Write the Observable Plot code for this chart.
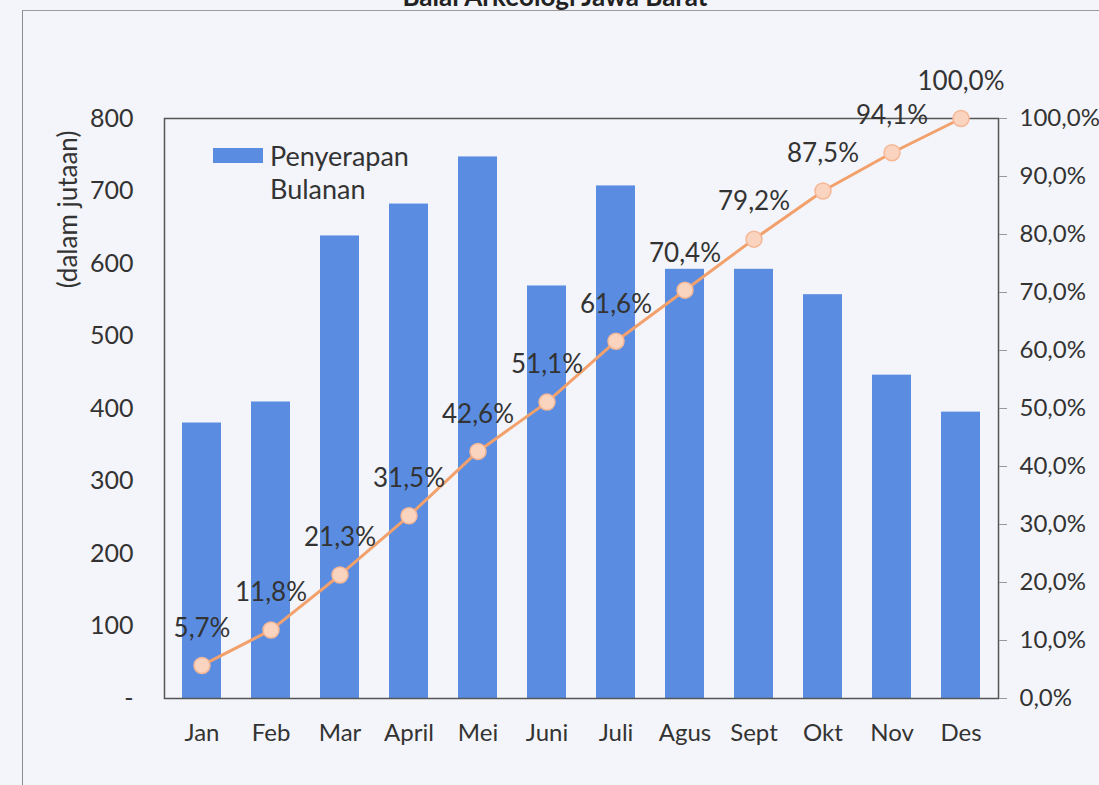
<!DOCTYPE html>
<html>
<head>
<meta charset="utf-8">
<script src="https://cdn.jsdelivr.net/npm/d3@7"></script>
<script src="https://cdn.jsdelivr.net/npm/@observablehq/plot@0.6"></script>
<style>
  html, body { margin: 0; padding: 0; background: #f3f5fa; }
  #wrap { position: relative; width: 1099px; height: 785px; overflow: hidden; background: #f3f5fa; font-family: Lato, "Open Sans", sans-serif; }
  #title { position: absolute; top: -20px; left: 0; width: 1110px; text-align: center; font-weight: bold; font-size: 26px; color: #222; }
  #border { position: absolute; left: 22px; top: 10px; width: 1100px; height: 800px; border-left: 1.5px solid #8c8c8c; border-top: 1.5px solid #9a9a9a; }
  #chart { position: absolute; left: 0; top: 0; }
</style>
</head>
<body>
<div id="wrap">
  <div id="title">Balai Arkeologi Jawa Barat</div>
  <div id="border"></div>
  <div id="chart"></div>
</div>
<script>
const months = ["Jan","Feb","Mar","April","Mei","Juni","Juli","Agus","Sept","Okt","Nov","Des"];
const monthly = [380, 409, 638, 682, 747, 569, 707, 592, 592, 557, 446, 395];
const cumulativePct = [5.7, 11.8, 21.3, 31.5, 42.6, 51.1, 61.6, 70.4, 79.2, 87.5, 94.1, 100.0];
const leftTicks = [0,100,200,300,400,500,600,700,800];
const rightTicks = [0,10,20,30,40,50,60,70,80,90,100];
const legendLines = ["Penyerapan", "Bulanan"];

const data = months.map((m, i) => ({month: m, value: monthly[i], pct: cumulativePct[i]}));
const scaleK = 800 / 100; // right axis 0-100% maps to left 0-800
const fmtPct = v => v.toFixed(1).replace(".", ",") + "%";

const fontFamily = "Lato, 'Open Sans', sans-serif";

const chart = Plot.plot({
  width: 1099,
  height: 785,
  marginLeft: 164,
  marginRight: 101,
  marginTop: 118,
  marginBottom: 87,
  style: { background: "transparent", fontFamily, fontSize: "25px", color: "#333" },
  x: { domain: months, paddingInner: 0.44, paddingOuter: 0.232, label: null },
  y: { domain: [0, 800], label: null },
  marks: [
    Plot.barY(data, { x: "month", y: "value", fill: "#5a8de2" }),
    Plot.frame({ stroke: "#555", strokeWidth: 1.5 }),
    Plot.axisX({ tickSize: 0, tickPadding: 25, fontSize: 24, label: null }),
    Plot.axisY({ anchor: "left", ticks: leftTicks, tickSize: 0, tickPadding: 31, fontSize: 25, label: null,
      tickFormat: d => d === 0 ? "-" : String(d) }),
    Plot.axisY({ anchor: "right", ticks: rightTicks.map(t => t * scaleK), tickSize: 8, tickPadding: 13, fontSize: 24, label: null,
      stroke: "#999", tickFormat: d => fmtPct(d / scaleK) }),
    Plot.line(data, { x: "month", y: d => d.pct * scaleK, stroke: "#f2a06c", strokeWidth: 3 }),
    Plot.dot(data, { x: "month", y: d => d.pct * scaleK, r: 8, fill: "#fbd4bf", stroke: "#f5b796", strokeWidth: 1.5 }),
    Plot.text(data, { x: "month", y: d => d.pct * scaleK, text: d => fmtPct(d.pct), dy: -37, fontSize: 26, fill: "#333" }),
    Plot.text(["(dalam jutaan)"], { frameAnchor: "left", textAnchor: "middle", dx: -96, dy: -199, rotate: -90, fontSize: 26, fill: "#333", text: d => d })
  ]
});

const svg = d3.select(chart);
const lg = svg.append("g").attr("font-family", fontFamily).attr("font-size", 27).attr("fill", "#333").attr("text-anchor", "start");
lg.append("rect").attr("x", 213).attr("y", 148).attr("width", 50).attr("height", 15).attr("fill", "#5a8de2");
legendLines.forEach((t, i) => {
  lg.append("text").attr("x", 270).attr("y", 166 + i * 33).text(t);
});

document.getElementById("chart").appendChild(chart);
</script>
</body>
</html>
